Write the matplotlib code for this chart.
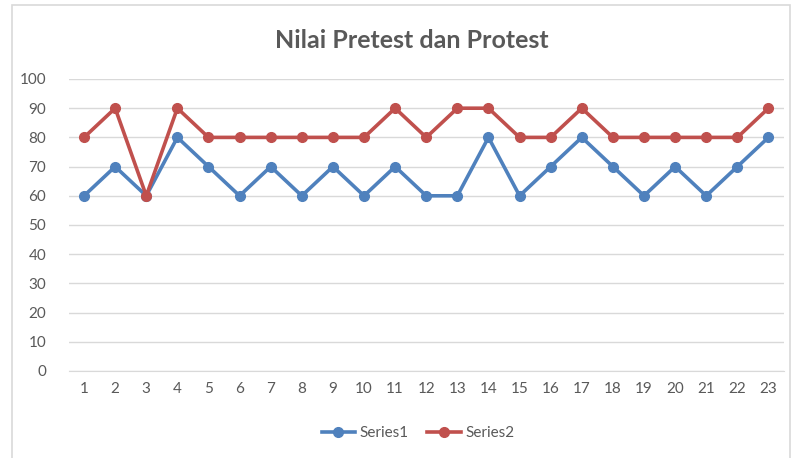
import matplotlib
matplotlib.use("Agg")
import matplotlib.pyplot as plt
from matplotlib.patches import Rectangle

categories = list(range(1, 24))
series1 = [60, 70, 60, 80, 70, 60, 70, 60, 70, 60, 70, 60, 60, 80, 60, 70, 80, 70, 60, 70, 60, 70, 80]
series2 = [80, 90, 60, 90, 80, 80, 80, 80, 80, 80, 90, 80, 90, 90, 80, 80, 90, 80, 80, 80, 80, 80, 90]
yticks = list(range(0, 101, 10))
title = "Nilai Pretest dan Protest"

plt.rcParams['font.family'] = ['Lato', 'DejaVu Sans']
fig = plt.figure(figsize=(7.96, 4.58), dpi=100)
fig.patches.append(Rectangle((12/796, -0.1), (790-12)/796, (458-5)/458 + 0.1,
                             transform=fig.transFigure, fill=False,
                             edgecolor='#d9d9d9', linewidth=1.2))
ax = fig.add_axes([68.5/796, (458-371)/458, (784-68.5)/796, (371-79)/458])

c1 = '#4f81bd'
c2 = '#c0504d'
ax.plot(categories, series1, color=c1, lw=2.6, marker='o', ms=7, label='Series1', zorder=3)
ax.plot(categories, series2, color=c2, lw=2.6, marker='o', ms=7, label='Series2', zorder=3)

ax.set_xlim(0.5, 23.5)
ax.set_ylim(0, 100)
ax.set_yticks(yticks)
ax.set_xticks(categories)
ax.grid(axis='y', color='#d9d9d9', lw=1)
ax.set_axisbelow(True)
for s in ['top', 'right', 'left']:
    ax.spines[s].set_visible(False)
ax.spines['bottom'].set_color('#d9d9d9')
ax.tick_params(axis='both', length=0, colors='#595959', labelsize=11)
ax.tick_params(axis='y', pad=16)
ax.tick_params(axis='x', pad=8)

fig.text(412/796, 1 - 40/458, title, ha='center', va='center', fontsize=18,
         fontweight='bold', color='#595959')
fig.legend(loc='center', bbox_to_anchor=(418/796, 1 - 433/458), ncol=2, frameon=False,
           fontsize=11, labelcolor='#595959', handlelength=2.2, columnspacing=1.2,
           handletextpad=0.3)
fig.savefig('out.png', dpi=100)
